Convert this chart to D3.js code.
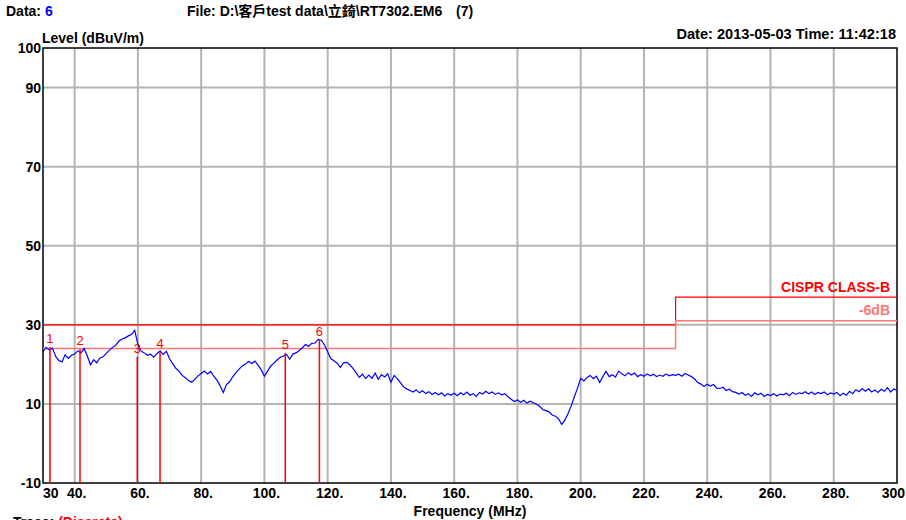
<!DOCTYPE html>
<html>
<head>
<meta charset="utf-8">
<script src="https://cdn.jsdelivr.net/npm/d3@7"></script>
<style>
body { margin: 0; background: #fff; }
text { font-family: "Liberation Sans", Arial, "Noto Sans CJK TC", sans-serif; font-weight: bold; font-size: 14px; }
</style>
</head>
<body>
<svg width="906" height="520"></svg>
<script>
// Axis ticks.
var xTickValues = [30, 40, 60, 80, 100, 120, 140, 160, 180, 200, 220, 240, 260, 280, 300];
var xTickLabels = ["30", "40.", "60.", "80.", "100.", "120.", "140.", "160.", "180.", "200.", "220.", "240.", "260.", "280.", "300"];
var xGridValues = [40, 60, 80, 100, 120, 140, 160, 180, 200, 220, 240, 260, 280];
var yTickValues = [100, 90, 70, 50, 30, 10, -10];
var yGridValues = [90, 70, 50, 30, 10];

// Limit line (CISPR class B) and the -6dB margin line.
var limitFreq = [30, 230, 230, 300];
var limitLevel = [30, 30, 37, 37];
var marginLevel = [24, 24, 31, 31];

// Discrete markers.
var markerFreq = [32.2, 41.7, 59.8, 67.0, 106.6, 117.4];
var markerLevel = [24.4, 23.9, 21.9, 23.2, 22.9, 26.2];

// Sweep trace, 30 MHz to 300 MHz in 1 MHz steps.
var traceStart = 30;
var traceStep = 1;
var traceLevel = [
	23.2, 24.3, 23.6, 24.1, 22.0, 21.0, 20.6, 22.4, 21.5, 22.3,
	22.6, 23.4, 22.9, 24.0, 22.1, 19.9, 21.2, 20.4, 21.6, 21.9,
	22.8, 23.6, 24.3, 24.8, 25.9, 26.4, 26.7, 27.2, 27.6, 28.6,
	25.0, 23.4, 22.9, 22.3, 22.6, 21.8, 22.7, 23.4, 22.5, 23.3,
	21.4, 20.2, 19.0, 18.3, 17.2, 16.6, 15.9, 15.5, 16.2, 17.1,
	17.7, 18.3, 17.6, 18.2, 17.0, 16.0, 14.6, 12.9, 14.9, 15.6,
	16.9, 17.9, 18.8, 19.6, 20.1, 20.7, 20.2, 20.8, 19.8, 18.6,
	17.0, 18.3, 19.6, 20.3, 21.1, 21.8, 22.1, 22.5, 21.3, 22.6,
	22.9, 23.5, 24.2, 25.0, 24.6, 25.3, 25.4, 26.3, 26.1, 24.9,
	23.2, 21.4, 20.9, 20.3, 19.2, 20.4, 20.5, 19.9, 19.0, 17.9,
	16.7, 17.5, 16.4, 17.3, 16.5, 17.8, 16.2, 17.4, 16.8, 17.6,
	15.5, 17.2, 16.4, 15.4, 14.3, 13.8, 13.4, 13.0, 13.6, 12.8,
	13.3, 12.6, 13.1, 12.4, 12.9, 12.3, 12.8, 12.0, 12.6, 12.2,
	12.7, 12.1, 12.8, 12.3, 13.0, 12.2, 12.6, 11.9, 12.9, 12.5,
	13.2, 12.6, 13.0, 12.4, 12.8, 12.3, 12.6, 11.8, 11.2, 10.6,
	11.0, 10.4, 10.9, 10.2, 10.7, 10.3, 9.9, 9.4, 8.6, 8.3,
	8.0, 7.2, 6.9, 6.2, 4.8, 5.9, 7.6, 9.5, 11.8, 14.0,
	16.5, 15.8, 16.7, 17.2, 16.4, 17.0, 15.4, 16.9, 18.2, 16.9,
	17.4, 16.8, 18.3, 17.6, 17.1, 17.9, 17.3, 17.8, 16.9, 17.4,
	17.0, 17.6, 17.1, 17.5, 16.9, 17.3, 17.0, 17.6, 17.1, 17.4,
	17.2, 17.5, 17.0, 17.7, 17.3, 16.9, 16.3, 15.4, 15.0, 14.4,
	15.0, 14.5, 14.9, 14.0, 13.9, 14.2, 13.4, 13.7, 13.1, 12.9,
	12.5, 12.9, 12.2, 12.6, 11.9, 12.8, 12.3, 12.7, 11.9, 12.4,
	12.1, 12.6, 12.0, 12.5, 12.3, 12.7, 12.1, 12.9, 12.4, 12.8,
	12.6, 13.1, 12.5, 13.0, 12.4, 12.9, 12.6, 13.0, 12.3, 12.8,
	12.5, 12.9, 12.1, 12.7, 12.2, 13.2, 12.6, 13.6, 13.1, 13.9,
	13.2, 13.8, 13.0, 13.5, 12.9, 13.7, 13.2, 14.1, 13.0, 13.8, 13.4
];

var svg = d3.select("svg");

// Plot area.
var plotLeft = 43, plotRight = 897, plotTop = 48, plotBottom = 483;

var x = d3.scaleLinear().domain([30, 300]).range([plotLeft, plotRight]);
var y = d3.scaleLinear().domain([-10, 100]).range([plotBottom, plotTop]);

// Header texts.
var header = svg.append("text").attr("x", 6).attr("y", 16);
header.append("tspan").text("Data: ");
header.append("tspan").attr("fill", "#0000ff").text("6");

svg.append("text").attr("x", 187).attr("y", 16).text("File: D:\\客戶test data\\立錡\\RT7302.EM6");
svg.append("text").attr("x", 456).attr("y", 16).text("(7)");

svg.append("text").attr("x", 42).attr("y", 43).text("Level (dBuV/m)");
svg.append("text").attr("x", 896).attr("y", 39).attr("text-anchor", "end")
	.style("font-size", "14.6px")
	.text("Date: 2013-05-03  Time: 11:42:18");

// Grid lines.
svg.append("g")
	.selectAll("line")
	.data(xGridValues)
	.enter()
	.append("line")
	.attr("x1", function(d) { return x(d); })
	.attr("x2", function(d) { return x(d); })
	.attr("y1", plotTop)
	.attr("y2", plotBottom)
	.attr("stroke", "#b4b4b4")
	.attr("stroke-width", 2);

svg.append("g")
	.selectAll("line")
	.data(yGridValues)
	.enter()
	.append("line")
	.attr("x1", plotLeft)
	.attr("x2", plotRight)
	.attr("y1", function(d) { return y(d); })
	.attr("y2", function(d) { return y(d); })
	.attr("stroke", "#b4b4b4")
	.attr("stroke-width", 2);

// Frame.
svg.append("rect")
	.attr("x", plotLeft)
	.attr("y", plotTop)
	.attr("width", plotRight - plotLeft)
	.attr("height", plotBottom - plotTop)
	.attr("fill", "none")
	.attr("stroke", "#000")
	.attr("stroke-width", 1.5);

// Tick labels.
svg.append("g")
	.selectAll("text")
	.data(yTickValues)
	.enter()
	.append("text")
	.attr("x", 41)
	.attr("y", function(d) { return y(d) + 5; })
	.attr("text-anchor", "end")
	.text(function(d) { return d; });

// First label starts at the axis, last one ends at the page edge.
var lastTick = xTickValues.length - 1;
svg.append("g")
	.selectAll("text")
	.data(xTickValues)
	.enter()
	.append("text")
	.attr("x", function(d, i) {
		if (i == 0) return x(d);
		if (i == lastTick) return 905;
		return x(d) + 2;
	})
	.attr("y", 498)
	.attr("text-anchor", function(d, i) {
		if (i == 0) return "start";
		if (i == lastTick) return "end";
		return "middle";
	})
	.text(function(d, i) { return xTickLabels[i]; });

svg.append("text").attr("x", 470).attr("y", 516).attr("text-anchor", "middle").text("Frequency (MHz)");

var trace = svg.append("text").attr("x", 13).attr("y", 527);
trace.append("tspan").text("Trace:  ");
trace.append("tspan").attr("fill", "#ff0000").text("(Discrete)");

// Limit lines.
var stepLine = d3.line()
	.x(function(d) { return x(d[0]); })
	.y(function(d) { return y(d[1]); });

svg.append("path")
	.attr("d", stepLine(d3.zip(limitFreq, limitLevel)))
	.attr("fill", "none")
	.attr("stroke", "#ff0000")
	.attr("stroke-width", 1.2);

svg.append("path")
	.attr("d", stepLine(d3.zip(limitFreq, marginLevel)))
	.attr("fill", "none")
	.attr("stroke", "#ff7878")
	.attr("stroke-width", 1.5);

svg.append("text").attr("x", 890).attr("y", 292).attr("text-anchor", "end")
	.attr("fill", "#ff0000").text("CISPR CLASS-B");
svg.append("text").attr("x", 890).attr("y", 315).attr("text-anchor", "end")
	.attr("fill", "#ff7878").text("-6dB");

// Trace.
svg.append("clipPath").attr("id", "plot-clip")
	.append("rect")
	.attr("x", plotLeft).attr("y", plotTop)
	.attr("width", plotRight - plotLeft).attr("height", plotBottom - plotTop);

var traceLine = d3.line()
	.x(function(d, i) { return x(traceStart + i * traceStep); })
	.y(function(d) { return y(d); });

svg.append("path")
	.attr("d", traceLine(traceLevel))
	.attr("clip-path", "url(#plot-clip)")
	.attr("fill", "none")
	.attr("stroke", "#0000ff")
	.attr("stroke-width", 1.2);

// Markers.
var markers = svg.append("g")
	.selectAll("g")
	.data(markerFreq)
	.enter()
	.append("g");

markers.append("line")
	.attr("x1", function(d) { return x(d); })
	.attr("x2", function(d) { return x(d); })
	.attr("y1", function(d, i) { return y(markerLevel[i]); })
	.attr("y2", plotBottom)
	.attr("stroke", "#ff0000")
	.attr("stroke-width", 1.5);

markers.append("text")
	.attr("x", function(d) { return x(d); })
	.attr("y", function(d, i) { return y(markerLevel[i]) - 4; })
	.attr("text-anchor", "middle")
	.attr("fill", "#ff0000")
	.style("font-weight", "normal")
	.style("font-size", "13px")
	.text(function(d, i) { return i + 1; });
</script>
</body>
</html>
